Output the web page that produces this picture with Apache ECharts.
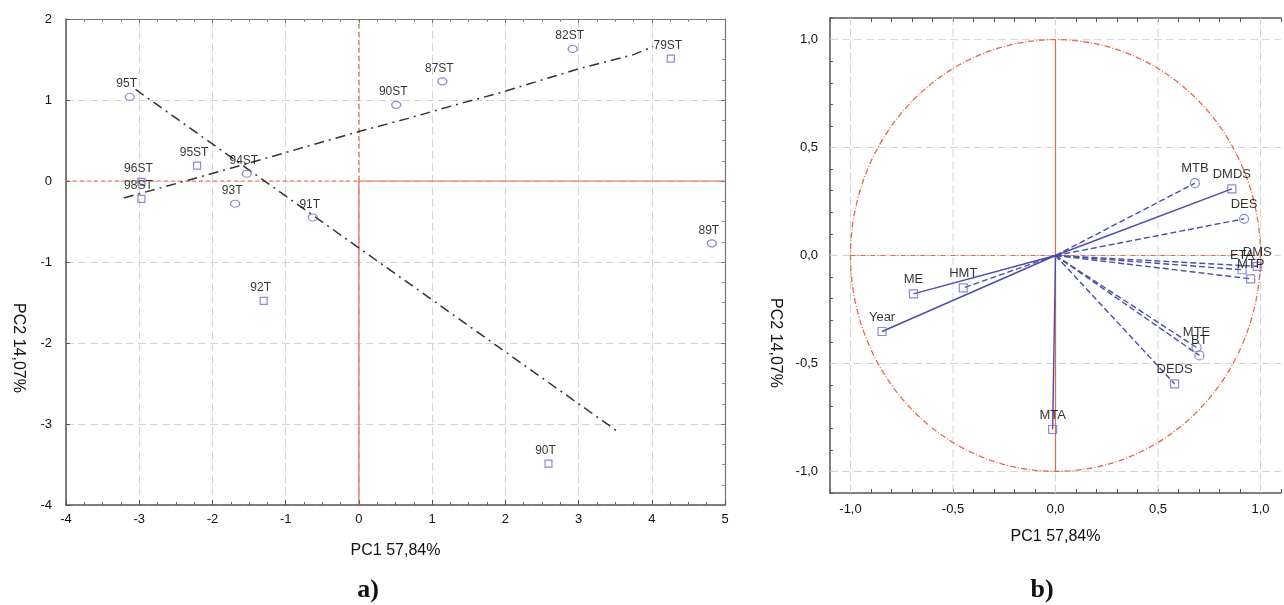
<!DOCTYPE html>
<html><head><meta charset="utf-8">
<script src="https://cdn.jsdelivr.net/npm/echarts@6/dist/echarts.min.js"></script>
<style>html,body{margin:0;padding:0;background:#fff}#c{width:1284px;height:605px}</style>
</head><body><div id="c"></div>
<script>
// ---------- Panel a) : sample scores ----------
const sampleNames = ['95T','95ST','96ST','98ST','94ST','93T','91T','92T','90ST','87ST','82ST','79ST','89T','90T'];
const sampleX     = [-3.13,-2.21,-2.97,-2.97,-1.53,-1.69,-0.63,-1.30,0.51,1.14,2.92,4.26,4.82,2.59];
const sampleY     = [1.04,0.19,-0.01,-0.22,0.09,-0.28,-0.45,-1.48,0.94,1.23,1.63,1.51,-0.77,-3.49];
const sampleShape = ['circle','rect','rect','rect','circle','circle','circle','rect','circle','circle','circle','rect','circle','rect'];
// trend lines (dash-dot)
const trendT_X  = [-3.05, 3.53];
const trendT_Y  = [1.13, -3.09];
const trendST_X = [-3.21,-2.37,-1.62,-0.39,0.00,0.66,1.32,1.93,2.98,3.75,4.02];
const trendST_Y = [-0.21,0.00,0.19,0.51,0.61,0.77,0.94,1.09,1.38,1.56,1.66];
// axis ranges
const axisA_x = {min:-4, max:5, step:1};
const axisA_y = {min:-4, max:2, step:1};

// ---------- Panel b) : variable loadings ----------
const varNames = ['MTB','DMDS','DES','ETA','DMS','MTP','ME','HMT','Year','MTA','MTE','BT','DEDS'];
const varX     = [0.68,0.86,0.92,0.91,0.984,0.952,-0.693,-0.45,-0.846,-0.014,0.688,0.702,0.581];
const varY     = [0.335,0.309,0.17,-0.066,-0.05,-0.108,-0.178,-0.15,-0.352,-0.806,-0.426,-0.463,-0.595];
const varShape = ['circle','rect','circle','rect','rect','rect','rect','rect','rect','rect','circle','circle','rect'];
const varLine  = ['dashed','solid','dashed','dashed','dashed','dashed','solid','dashed','solid','solid','dashed','dashed','dashed'];
const axisB = {min:-1.1, max:1.1, step:0.1};
const gridB_lines = [-1,-0.5,0,0.5,1];
const unitCircle = [0,0,1];

const RED = '#e8674a', BLUE = '#6e6ec8', LBLUE = '#4c4caa';
const NARROW = '"Liberation Sans Narrow","Arial Narrow","Liberation Sans",Arial,sans-serif';
const SANS = '"Liberation Sans",Arial,sans-serif';

function fmtComma(v){
  if (Math.abs(v*2 - Math.round(v*2)) > 1e-6) return '';
  return (Math.round(v*10)/10).toFixed(1).replace('.', ',');
}
const gridLineStyle = {color:'#d4d4d4', type:[8,4], width:1};

const option = {
  animation:false,
  backgroundColor:'#fff',
  grid:[
    {left:66, top:19, width:659, height:486},
    {left:830, top:18, width:461, height:475}
  ],
  xAxis:[
    {gridIndex:0, type:'value', min:axisA_x.min, max:axisA_x.max, interval:axisA_x.step,
     name:'PC1 57,84%', nameLocation:'middle', nameGap:38,
     nameTextStyle:{fontFamily:NARROW, fontSize:16, color:'#111'},
     axisLine:{show:true, onZero:false, lineStyle:{color:'#555', width:1.5}},
     axisTick:{show:true, inside:true, length:5, lineStyle:{color:'#555'}},
     minorTick:{show:true, splitNumber:4, length:3, lineStyle:{color:'#666'}},
     axisLabel:{fontFamily:NARROW, fontSize:13, color:'#111', margin:8},
     splitLine:{show:true, lineStyle:gridLineStyle}},
    {gridIndex:0, type:'value', position:'top', min:axisA_x.min, max:axisA_x.max, interval:axisA_x.step,
     axisLine:{show:true, onZero:false, lineStyle:{color:'#777', width:1.2}},
     axisTick:{show:true, inside:true, length:4, lineStyle:{color:'#777'}},
     minorTick:{show:true, splitNumber:4, length:3, lineStyle:{color:'#888'}},
     axisLabel:{show:false}, splitLine:{show:false}},
    {gridIndex:1, type:'value', min:axisB.min, max:axisB.max, interval:axisB.step,
     name:'PC1 57,84%', nameLocation:'middle', nameGap:36,
     nameTextStyle:{fontFamily:SANS, fontSize:16, color:'#111'},
     axisLine:{show:true, onZero:false, lineStyle:{color:'#555', width:1.5}},
     axisTick:{show:true, inside:true, length:4, lineStyle:{color:'#555'}},
     axisLabel:{fontFamily:NARROW, fontSize:13, color:'#111', margin:10, formatter:fmtComma, showMinLabel:true, showMaxLabel:true},
     splitLine:{show:false}},
    {gridIndex:1, type:'value', position:'top', min:axisB.min, max:axisB.max, interval:axisB.step,
     axisLine:{show:true, onZero:false, lineStyle:{color:'#555', width:1.5}},
     axisTick:{show:true, inside:true, length:4, lineStyle:{color:'#555'}},
     axisLabel:{show:false}, splitLine:{show:false}}
  ],
  yAxis:[
    {gridIndex:0, type:'value', min:axisA_y.min, max:axisA_y.max, interval:axisA_y.step,
     axisLine:{show:true, onZero:false, lineStyle:{color:'#555', width:1.5}},
     axisTick:{show:true, inside:true, length:4, lineStyle:{color:'#555'}},
     axisLabel:{fontFamily:NARROW, fontSize:13, color:'#111', margin:14},
     splitLine:{show:true, lineStyle:gridLineStyle}},
    {gridIndex:0, type:'value', position:'right', min:axisA_y.min, max:axisA_y.max, interval:axisA_y.step,
     axisLine:{show:true, onZero:false, lineStyle:{color:'#777', width:1.2}},
     axisTick:{show:true, inside:true, length:4, lineStyle:{color:'#777'}},
     minorTick:{show:true, splitNumber:4, length:3, lineStyle:{color:'#888'}},
     axisLabel:{show:false}, splitLine:{show:false}},
    {gridIndex:1, type:'value', min:axisB.min, max:axisB.max, interval:axisB.step,
     axisLine:{show:true, onZero:false, lineStyle:{color:'#555', width:1.5}},
     axisTick:{show:true, inside:true, length:3, lineStyle:{color:'#555'}},
     axisLabel:{fontFamily:NARROW, fontSize:13, color:'#111', margin:12, formatter:fmtComma, showMinLabel:true, showMaxLabel:true},
     splitLine:{show:false}}
  ],
  graphic:[
    {type:'text', x:18, y:348, rotation:-Math.PI/2,
     style:{text:'PC2 14,07%', font:'16px '+NARROW, fill:'#111', align:'center', verticalAlign:'middle'}},
    {type:'text', x:775, y:343, rotation:-Math.PI/2,
     style:{text:'PC2 14,07%', font:'16px '+SANS, fill:'#111', align:'center', verticalAlign:'middle'}},
    {type:'text', x:368, y:590,
     style:{text:'a)', font:'bold 26px "Liberation Serif","Times New Roman",serif', fill:'#111', align:'center', verticalAlign:'middle'}},
    {type:'text', x:1042, y:590,
     style:{text:'b)', font:'bold 26px "Liberation Serif","Times New Roman",serif', fill:'#111', align:'center', verticalAlign:'middle'}}
  ],
  series:[]
};

// ---- panel a) zero reference lines ----
function seg(xi, yi, pts, style, z){
  return {type:'line', xAxisIndex:xi, yAxisIndex:yi, data:pts, showSymbol:false, silent:true, z:z||2,
          lineStyle:style, symbol:'none'};
}
option.series.push(seg(0,0,[[axisA_x.min,0],[0,0]], {color:RED, width:1.2, type:[4,3]}));
option.series.push(seg(0,0,[[0,0],[axisA_x.max,0]], {color:RED, width:1.2, type:'solid'}));
option.series.push(seg(0,0,[[0,0],[0,axisA_y.max]], {color:RED, width:1.2, type:[5,3]}));
option.series.push(seg(0,0,[[0,axisA_y.min],[0,0]], {color:RED, width:1.2, type:'solid'}));
// trend lines
option.series.push(seg(0,0,trendT_X.map((x,i)=>[x,trendT_Y[i]]), {color:'#333', width:1.5, type:[10,5,2,5]}, 3));
option.series.push(seg(0,0,trendST_X.map((x,i)=>[x,trendST_Y[i]]), {color:'#333', width:1.5, type:[10,5,2,5]}, 3));
// sample points
option.series.push({
  type:'scatter', xAxisIndex:0, yAxisIndex:0, z:5,
  data: sampleNames.map((n,i)=>({name:n, value:[sampleX[i], sampleY[i]], symbol:sampleShape[i],
          symbolSize: sampleShape[i]==='circle' ? [9,7] : 7})),
  itemStyle:{color:'rgba(255,255,255,0)', borderColor:BLUE, borderWidth:1.2},
  label:{show:true, position:'top', distance:3, offset:[-3,0], formatter:'{b}',
         fontFamily:NARROW, fontSize:12, color:'#000'}
});

// ---- panel b) ----
gridB_lines.forEach(v=>{
  option.series.push(seg(2,2,[[v,axisB.min],[v,axisB.max]], gridLineStyle, 1));
  option.series.push(seg(2,2,[[axisB.min,v],[axisB.max,v]], gridLineStyle, 1));
});
option.series.push(seg(2,2,[[0,-1],[0,1]], {color:RED, width:1.2, type:'solid'}));
option.series.push(seg(2,2,[[-1,0],[1,0]], {color:RED, width:1.2, type:[5,2,1,2]}));
option.series.push({
  type:'custom', xAxisIndex:2, yAxisIndex:2, silent:true, z:2,
  data:[unitCircle],
  renderItem:function(params, api){
    const cx = api.value(0), cy = api.value(1), r = api.value(2);
    const pts = [];
    for (let i=0;i<=240;i++){ const t=i/240*2*Math.PI; pts.push(api.coord([cx+r*Math.cos(t), cy+r*Math.sin(t)])); }
    return {type:'polyline', shape:{points:pts}, style:{stroke:RED, lineWidth:1.3, lineDash:[6,2,1,2], fill:null}};
  }
});
option.series.push({
  type:'lines', coordinateSystem:'cartesian2d', xAxisIndex:2, yAxisIndex:2, silent:true, z:3,
  data: varNames.map((n,i)=>({coords:[[0,0],[varX[i],varY[i]]], lineStyle:{type: varLine[i]==='dashed' ? [6,3] : 'solid'}})),
  lineStyle:{color:LBLUE, width:1.4, opacity:1}
});
option.series.push({
  type:'scatter', xAxisIndex:2, yAxisIndex:2, z:5,
  data: varNames.map((n,i)=>({name:n, value:[varX[i], varY[i]], symbol:varShape[i], symbolSize: varShape[i]==='circle'?9:8})),
  itemStyle:{color:'rgba(255,255,255,0)', borderColor:BLUE, borderWidth:1.2},
  label:{show:true, position:'top', distance:3, formatter:'{b}', fontFamily:SANS, fontSize:13, color:'#000'}
});

const chart = echarts.init(document.getElementById('c'), null, {renderer:'canvas'});
chart.setOption(option);
</script>
</body></html>
